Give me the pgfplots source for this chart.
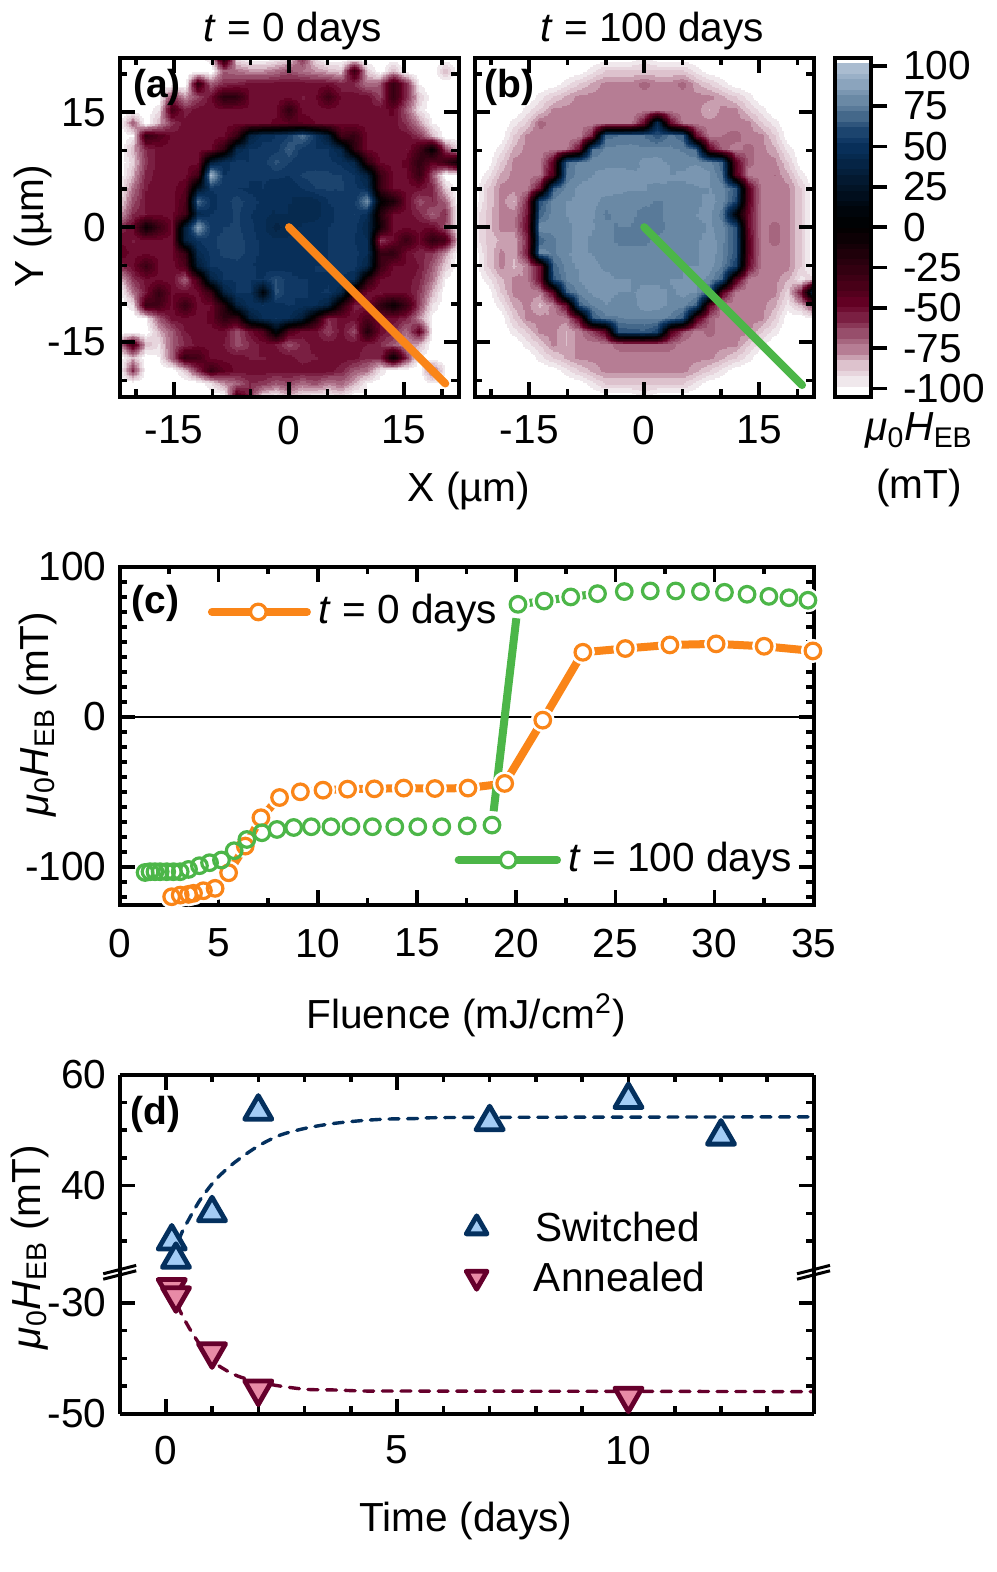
\documentclass[border=0pt]{standalone}
\usepackage{fontspec}
\setmainfont{Liberation Sans}
\usepackage{pgfplots}
\usepackage{pgfplotstable}
\pgfplotsset{compat=1.18}
\usepgfplotslibrary{patchplots}

\definecolor{cOrange}{RGB}{250,133,24}
\definecolor{cGreen}{RGB}{76,182,72}
\definecolor{cBlueD}{RGB}{4,48,94}
\definecolor{cBlueL}{RGB}{163,204,245}
\definecolor{cRedD}{RGB}{102,0,44}
\definecolor{cRedL}{RGB}{232,138,166}

\newcommand\fsz{\fontsize{20.3pt}{24pt}\selectfont}
\newcommand\fszb{\fontsize{19.5pt}{23pt}\selectfont\bfseries}
\newcommand\hebtext{\textit{μ}\textsubscript{0}\textit{H}\textsubscript{EB}}

% map data: 27 x 27 grid, 1.7 um step, rows from top to bottom
\newcount\gi \newcount\gj
\newcommand\buildgrid[2]{%
  \gi=0 \gj=0 \gdef#1{}%
  \pgfplotsforeachungrouped \v in {#2}{%
    \pgfmathsetmacro\gx{-22.1+1.7*\the\gi}%
    \pgfmathsetmacro\gy{22.1-1.7*\the\gj}%
    \xdef#1{#1(\gx,\gy)[\v]}%
    \global\advance\gi by 1
    \ifnum\gi=27 \global\gi=0 \global\advance\gj by 1 \fi
  }%
}

\buildgrid\mapA{
-112,-112,-112,-112,-112,-112,-112,-95,-15,-95,-105,-105,-100,-95,-60,-95,-105,-112,-112,-112,-112,-112,-112,-112,-112,-112,-112,
-112,-112,-112,-112,-112,-112,-112,-105,-70,-75,-80,-80,-75,-68,-75,-80,-85,-90,-30,-90,-105,-85,-112,-112,-112,-85,-112,
-112,-112,-112,-112,-112,-110,-30,-70,-60,-58,-52,-52,-52,-52,-52,-52,-52,-58,-60,-75,-70,-28,-60,-100,-112,-112,-112,
-112,-112,-112,-112,-60,-80,-65,-52,-22,-25,-50,-50,-52,-52,-55,-52,-32,-52,-52,-52,-65,-28,-60,-90,-105,-112,-112,
-112,-112,-112,-95,-35,-58,-52,-52,-52,-52,-52,-52,-52,-25,-52,-52,-52,-52,-52,-52,-52,-48,-70,-95,-108,-112,-112,
-112,-70,-108,-85,-62,-52,-52,-52,-52,-52,-52,-52,-48,-45,-45,-50,-52,-52,-52,-52,-52,-52,-62,-80,-100,-105,-112,
-112,-100,-28,-40,-52,-52,-52,-52,-52,-30,35,48,50,55,70,52,30,-35,-28,-52,-52,-52,-52,-62,-85,-105,-112,
-105,-85,-60,-52,-52,-52,-52,-52,-25,40,50,52,52,65,52,50,50,38,-25,-52,-52,-52,-55,-35,0,-65,-95,
-108,-92,-62,-52,-52,-52,-52,30,48,52,50,52,62,55,50,50,52,48,40,-25,-52,-52,-48,-25,-45,-30,-5,
-105,-85,-58,-52,-52,-52,-35,95,50,52,50,50,52,50,56,58,56,55,50,35,-30,-52,-52,-30,-68,-105,-112,
-100,-75,-55,-52,-52,-45,20,50,52,50,48,50,45,45,50,55,56,55,52,45,-30,-52,-52,-52,-58,-90,-110,
-95,-68,-54,-52,-52,-40,70,48,52,58,52,48,45,45,42,42,50,52,52,80,0,-15,-50,-68,-60,-72,-105,
-85,-60,-55,-52,-52,-35,40,50,52,56,50,46,44,44,42,42,48,52,55,45,-20,-52,-52,-58,-72,-60,-100,
-60,-50,-5,-30,-50,30,85,52,55,56,52,46,38,42,46,48,50,52,52,40,-10,-52,-52,-52,-50,-68,-100,
-50,-55,-52,-52,-52,35,50,54,58,58,52,48,46,46,45,46,50,54,50,45,-65,-50,-30,-50,-25,-35,-90,
-45,-52,-52,-52,-52,-30,42,52,56,58,52,48,48,46,46,48,50,54,52,45,-30,-25,-52,-58,-62,-80,-105,
-60,-52,-30,-50,-52,-40,30,50,52,52,50,48,46,48,48,50,50,52,52,38,-30,-52,-50,-55,-70,-90,-110,
-90,-62,-52,-52,-52,-72,-35,35,50,50,50,50,60,52,50,48,48,50,45,-20,-52,-52,-52,-58,-75,-100,-112,
-105,-75,-55,-28,-50,-52,-52,-30,35,50,50,5,62,50,50,48,52,38,-25,-52,-55,-52,-52,-62,-85,-105,-112,
-112,-95,-30,-35,-52,-28,-52,-50,-20,35,48,50,48,50,48,46,35,-20,-58,-55,-25,-5,-30,-65,-95,-112,-112,
-112,-112,-100,-70,-52,-52,-52,-48,-25,-30,30,45,50,45,30,-15,-60,-52,-52,-40,-52,-52,-58,-80,-102,-112,-112,
-112,-112,-112,-85,-70,-55,-52,-52,-52,-68,-52,-40,10,-40,-52,-52,-65,-52,-68,-18,-52,-58,-75,-45,-100,-112,-112,
-80,-35,-85,-95,-70,-60,-52,-52,-55,-68,-60,-52,-55,-68,-58,-52,-52,-52,-52,-55,-60,-70,-80,-85,-110,-112,-112,
-112,-85,-108,-100,-70,-30,-35,-52,-52,-52,-55,-55,-52,-52,-58,-55,-52,-52,-52,-60,-60,-5,-60,-100,-108,-112,-112,
-112,-60,-112,-112,-105,-90,-60,-30,-45,-52,-52,-52,-52,-52,-52,-52,-52,-58,-70,-75,-95,-108,-112,-105,-70,-100,-112,
-112,-112,-112,-112,-112,-112,-105,-95,-80,-72,-60,-62,-70,-65,-75,-68,-78,-72,-85,-100,-112,-112,-112,-112,-100,-112,-112,
-112,-112,-112,-112,-112,-112,-112,-110,-105,-35,-60,-95,-100,-85,-95,-100,-100,-95,-105,-100,-112,-112,-112,-112,-112,-112,-112
}

\buildgrid\mapB{
-112,-112,-112,-112,-112,-112,-112,-112,-112,-110,-104,-104,-104,-97,-104,-104,-104,-110,-112,-112,-112,-112,-112,-112,-112,-112,-112,
-112,-112,-112,-112,-112,-112,-110,-104,-104,-97,-90,-90,-90,-90,-90,-90,-90,-97,-104,-104,-110,-112,-112,-112,-112,-112,-112,
-112,-112,-112,-112,-112,-110,-104,-97,-90,-84,-78,-78,-78,-72,-78,-78,-72,-84,-90,-97,-104,-110,-112,-112,-112,-112,-112,
-112,-112,-112,-112,-106,-97,-90,-84,-78,-78,-78,-78,-78,-78,-78,-78,-78,-78,-78,-84,-90,-97,-106,-112,-112,-112,-112,
-112,-112,-112,-106,-97,-90,-78,-78,-78,-78,-78,-78,-78,-78,-78,-78,-78,-78,-85,-78,-78,-90,-97,-106,-112,-112,-112,
-112,-112,-108,-97,-90,-72,-78,-78,-78,-78,-78,-78,-78,-50,45,-50,-78,-78,-78,-78,-78,-78,-90,-97,-108,-112,-112,
-112,-108,-104,-90,-78,-78,-78,-78,-78,-55,68,70,72,70,62,72,66,-50,-78,-75,-72,-78,-78,-90,-104,-108,-112,
-112,-104,-97,-84,-78,-78,-78,-78,-50,70,76,77,77,76,77,76,74,68,-45,-72,-78,-72,-78,-84,-97,-104,-112,
-112,-104,-90,-78,-78,-78,-45,68,77,78,77,77,77,82,82,79,78,79,77,66,-45,-72,-78,-78,-90,-104,-112,
-112,-97,-84,-78,-78,-75,-40,70,78,80,83,84,82,80,83,80,81,84,81,70,-40,-78,-78,-75,-84,-97,-112,
-104,-90,-78,-78,-78,-50,66,77,81,84,84,83,80,80,78,79,78,79,80,77,64,-45,-78,-78,-78,-90,-104,
-104,-90,-78,-85,-60,62,77,80,81,83,77,76,77,77,74,77,78,79,82,78,58,-45,-78,-78,-78,-90,-104,
-98,-88,-78,-78,-55,66,78,80,82,81,74,76,76,72,74,77,79,80,82,72,5,-50,-78,-78,-78,-90,-104,
-98,-88,-78,-78,-50,80,77,79,82,80,77,74,74,70,72,77,77,78,81,77,62,-50,-78,-72,-78,-90,-104,
-98,-88,-84,-84,-60,66,74,79,82,79,77,74,74,74,77,78,77,79,83,77,62,-45,-78,-72,-78,-90,-104,
-104,-90,-78,-84,-55,79,74,79,83,79,77,77,77,77,77,78,79,79,84,76,62,-45,-78,-78,-78,-90,-104,
-104,-90,-78,-86,-78,-50,66,77,81,83,78,77,77,77,77,77,80,80,83,74,55,-50,-78,-78,-78,-90,-104,
-112,-97,-86,-78,-78,-50,62,76,80,83,83,80,79,78,78,80,81,82,78,64,-40,-78,-78,-78,-84,-97,-90,
-112,-104,-90,-78,-78,-78,-45,66,77,81,83,79,79,83,82,79,82,80,66,-45,-78,-78,-78,-78,-92,-55,45,
-112,-104,-97,-84,-78,-86,-78,-50,66,76,79,78,77,83,82,79,77,66,-45,-78,-78,-78,-78,-84,-97,-85,-65,
-112,-108,-104,-90,-78,-78,-78,-78,-45,62,74,74,76,76,76,74,62,-40,-72,-78,-78,-78,-78,-90,-104,-108,-100,
-112,-112,-108,-97,-90,-78,-78,-85,-78,-65,-45,60,62,64,56,-40,-68,-78,-72,-78,-78,-78,-90,-97,-108,-112,-112,
-112,-112,-112,-106,-97,-90,-78,-85,-78,-78,-78,-72,-70,-70,-70,-72,-78,-78,-78,-78,-78,-90,-97,-106,-112,-112,-112,
-112,-112,-112,-112,-106,-97,-90,-84,-78,-78,-78,-78,-78,-78,-78,-78,-78,-78,-78,-84,-90,-97,-106,-112,-112,-112,-112,
-112,-112,-112,-112,-112,-110,-104,-97,-90,-84,-78,-78,-78,-78,-78,-78,-78,-84,-90,-97,-104,-110,-112,-112,-112,-112,-112,
-112,-112,-112,-112,-112,-112,-110,-104,-104,-97,-90,-90,-90,-90,-90,-90,-90,-97,-104,-104,-110,-112,-112,-112,-112,-112,-112,
-112,-112,-112,-112,-112,-112,-112,-112,-112,-110,-104,-104,-104,-97,-104,-104,-104,-110,-112,-112,-112,-112,-112,-112,-112,-112,-112
}

\pgfplotsset{
  colormap={ebmap}{
    rgb255(0pt)=(255,255,255) rgb255(3pt)=(255,255,255) rgb255(5pt)=(240,232,236)
    rgb255(15pt)=(222,196,207) rgb255(25pt)=(184,128,150) rgb255(30pt)=(168,105,130)
    rgb255(45pt)=(125,35,70) rgb255(55pt)=(101,0,36) rgb255(65pt)=(75,0,25)
    rgb255(80pt)=(45,0,15) rgb255(95pt)=(15,0,5) rgb255(105pt)=(0,0,0)
    rgb255(115pt)=(0,6,14) rgb255(130pt)=(2,22,42) rgb255(145pt)=(5,38,72)
    rgb255(155pt)=(8,48,92) rgb255(165pt)=(30,70,112) rgb255(180pt)=(92,125,155)
    rgb255(195pt)=(140,165,190) rgb255(205pt)=(170,188,208) rgb255(207pt)=(200,210,225)
    rgb255(210pt)=(255,255,255)
  },
  every axis/.append style={
    scale only axis, axis line style={line width=2pt}, axis on top,
    every tick/.style={black, line width=1.8pt},
    major tick length=7.5pt, minor tick length=3.7pt, tick align=inside,
    tick label style={font=\fsz},
    yticklabel style={xshift=-3pt},
    xticklabel style={yshift=-6pt},
    point meta min=-105, point meta max=105,
  },
  mapaxis/.style={
    width=169.5pt, height=169.5pt,
    xmin=-22.12, xmax=22.12, ymin=-22.12, ymax=22.12,
    xtick={-15,0,15}, xticklabels={-15,0,15},
    ytick={-15,0,15},
    minor xtick={-20,-10,-5,5,10,20}, minor ytick={-20,-10,-5,5,10,20},
  },
  bands/.style={contour filled={levels={-105,-100,-95,-90,-85,-80,-75,-70,-65,-60,-55,-50,-45,-40,-35,-30,-25,-20,-15,-10,-5,0,5,10,15,20,25,30,35,40,45,50,55,60,65,70,75,80,85,90,95,100,105}}, mesh/cols=27, point meta=explicit, patch type=bilinear},
  halo/.style={only marks, mark=*, mark size=5.8pt, white, mark options={draw=white, fill=white}},
  ring/.style={only marks, mark=o, mark size=3.9pt, mark options={line width=1.6pt, draw=#1, fill=none}},
  tri/.style n args={3}{only marks, mark=#1, mark size=#2, mark options={line width=2.4pt, line join=round, #3}},
  dashline/.style={line width=1.7pt, line cap=round, dash pattern=on 5pt off 4.3pt, smooth, tension=0.5},
}
\newcommand\doplot[1]{\addplot[bands] coordinates {#1};}

\pgfplotstableread{
x y
2.63 -120
3.06 -118.9
3.48 -118.4
3.73 -117.7
4.23 -116
4.82 -114.4
5.5 -104
6.34 -86.2
7.13 -67.3
8.07 -53.8
9.12 -50
10.26 -48.9
11.5 -48.2
12.85 -48
14.33 -47.5
15.9 -47.8
17.57 -47.5
19.42 -44.4
21.34 -2.2
23.36 43.1
25.5 45.6
27.75 48
30.08 48.7
32.5 47.1
34.96 44
}\tblOrange

\pgfplotstableread{
x y
1.29 -103.8
1.54 -103.3
1.79 -103.3
2.05 -103.3
2.38 -103.3
2.72 -103.3
3.06 -103.3
3.48 -101.8
4.03 -99.3
4.54 -97.3
5.14 -95.5
5.78 -89.3
6.42 -81.8
7.18 -77.3
7.94 -75.1
8.78 -73.8
9.67 -73.3
10.66 -73.3
11.67 -73.1
12.75 -73.3
13.88 -73.3
15.04 -73.3
16.25 -73.3
17.53 -72.7
18.78 -72.2
}\tblGreenLow

\pgfplotstableread{
x y
20.09 75.1
21.41 77.3
22.75 80
24.1 82.2
25.45 83.6
26.76 84
28.04 84
29.29 83.6
30.5 83.1
31.64 81.8
32.74 80.4
33.75 79.5
34.71 77.8
}\tblGreenHigh

\begin{document}
\begin{tikzpicture}[every node/.append style={font=\fsz}]
\path[use as bounding box] (0,0) rectangle (498pt,786pt);

% (a)
\begin{axis}[mapaxis, anchor=south west, at={(59.75pt,587.65pt)}, yticklabels={-15,0,15}]
\expandafter\doplot\expandafter{\mapA}
\addplot[cOrange, line width=4pt, line cap=round] coordinates {(0,0)(20.4,-20.4)};
\node[font=\fszb, anchor=west, inner sep=0] at (axis cs:-20.4,18.3) {(a)};
\end{axis}

% (b)
\begin{axis}[mapaxis, anchor=south west, at={(237.35pt,587.65pt)}, yticklabels={}]
\expandafter\doplot\expandafter{\mapB}
\addplot[cGreen, line width=4pt, line cap=round] coordinates {(0,0)(20.6,-20.6)};
\node[font=\fszb, anchor=west, inner sep=0] at (axis cs:-20.9,18.3) {(b)};
\end{axis}

% colour bar
\begin{axis}[anchor=south west, at={(417.35pt,587.65pt)}, width=18.3pt, height=169.5pt,
  xmin=0, xmax=1, ymin=-105, ymax=105, xtick=\empty, axis on top,
  ytick={-100,-75,-50,-25,0,25,50,75,100},
  yticklabels={-100,-75,-50,-25,0,25,50,75,100},
  ytick pos=right, tick align=outside, major tick length=8pt,
  yticklabel pos=right, yticklabel style={xshift=7.5pt, anchor=west}]
\addplot[bands, mesh/cols=2] coordinates {(0,-105)[-105](1,-105)[-105](0,105)[105](1,105)[105]};
\end{axis}

% (c)
\begin{axis}[anchor=south west, at={(59.75pt,333.5pt)}, width=347.1pt, height=169pt,
  xmin=0, xmax=35, ymin=-125.5, ymax=100,
  xtick={0,5,...,35}, xticklabels={0,5,10,15,20,25,30,35}, minor xtick={2.5,7.5,...,32.5},
  ytick={-100,0,100}, yticklabels={-100,0,100},
  xticklabel style={yshift=-2.5pt},
  minor ytick={-120,-110,...,90}, clip=false]
\addplot[cOrange, line width=4pt, line cap=round] table[x=x,y=y] {\tblOrange};
\addplot[cGreen, line width=4pt] coordinates {(20.09,75.1)(21.41,77.3)(22.75,80)(24.1,82.2)};
\addplot[halo] table[x=x,y=y] {\tblOrange};
\addplot[halo] table[x=x,y=y] {\tblGreenHigh};
\addplot[black, line width=1.1pt] coordinates {(0,0)(35,0)};
\addplot[ring=cOrange] table[x=x,y=y] {\tblOrange};
\addplot[cGreen, line width=4pt, shorten >=7pt, shorten <=7pt] coordinates {(18.78,-72.2)(20.09,75.1)};
\addplot[ring=cGreen] table[x=x,y=y] {\tblGreenLow};
\addplot[ring=cGreen] table[x=x,y=y] {\tblGreenHigh};
% key
\addplot[cOrange, line width=4pt, line cap=round] coordinates {(4.66,70)(9.45,70)};
\addplot[halo, mark size=3.9pt] coordinates {(7.0,70)};
\addplot[ring=cOrange] coordinates {(7.0,70)};
\addplot[cGreen, line width=4pt, line cap=round] coordinates {(17.1,-95.5)(22.06,-95.5)};
\addplot[halo, mark size=3.9pt] coordinates {(19.6,-95.5)};
\addplot[ring=cGreen] coordinates {(19.6,-95.5)};
\node[anchor=west, inner sep=0] at (axis cs:10.0,69) {\textit{t} = 0 days};
\node[anchor=west, inner sep=0] at (axis cs:22.6,-96) {\textit{t} = 100 days};
\node[font=\fszb, anchor=west, inner sep=0] at (axis cs:0.6,76) {(c)};
\end{axis}

% (d), upper part of the broken axis
\begin{axis}[anchor=south west, at={(59.75pt,150.65pt)}, width=347pt, height=98pt,
  xmin=-1, xmax=14, ymin=24.68, ymax=60, clip=false,
  axis x line*=top, axis y line*=box, axis line style={-},
  xtick={0,5,10}, xticklabels={}, minor xtick={1,2,3,4,6,7,8,9,11,12,13},
  ytick={40,60}, yticklabels={40,60}, minor ytick={30,35,45,50,55}]
\addplot[cBlueD, dashline] coordinates {
(0.20,26.9)(0.31,30.8)(0.49,33.8)(0.74,37.4)(1.07,41)(1.46,44)(1.97,47)(2.47,49.1)
(3.05,50.4)(3.62,51.2)(4.2,51.7)(4.78,52)(5.42,52.1)(6.5,52.3)(14,52.4)};
\addplot[tri={triangle*}{7.85pt}{draw=cBlueD, fill=cBlueL}] coordinates {
(0.13,30)(0.22,26.7)(1,35.1)(2,53.4)(7,51.5)(10,55.5)(12,48.9)};
\addplot[tri={triangle*}{6pt}{draw=cBlueD, fill=cBlueL}] coordinates {(6.72,32.4)};
\addplot[tri={triangle*}{6pt}{draw=cRedD, fill=cRedL, rotate=180}] coordinates {(6.72,23.5)};
\node[anchor=west, inner sep=0] at (axis cs:7.98,32.6) {Switched};
\node[anchor=west, inner sep=0] at (axis cs:7.95,23.5) {Annealed};
\node[font=\fszb, anchor=west, inner sep=0] at (axis cs:-0.77,52.8) {(d)};
\end{axis}

% (d), lower part
\begin{axis}[anchor=south west, at={(59.75pt,79.1pt)}, width=347pt, height=71.55pt,
  xmin=-1, xmax=14, ymin=-50, ymax=-24.2, clip=false,
  axis x line*=bottom, axis y line*=box, axis line style={-},
  xtick={0,5,10}, xticklabels={0,5,10}, minor xtick={1,2,3,4,6,7,8,9,11,12,13},
  xticklabel style={yshift=-1.5pt},
  ytick={-50,-30}, yticklabels={-50,-30}, minor ytick={-45,-40,-35}]
\addplot[cRedD, dashline] coordinates {
(0.17,-27.1)(0.27,-30.7)(0.45,-33.7)(0.67,-36.7)(1.03,-40.6)(1.5,-43)(1.97,-44.2)(2.47,-45)
(3.05,-45.6)(3.62,-45.7)(4.34,-45.9)(5.42,-45.9)(14,-46)};
\addplot[tri={triangle*}{7.85pt}{draw=cRedD, fill=cRedL, rotate=180}] coordinates {
(0.13,-27.2)(0.22,-28.7)(1,-38.8)(2,-45.5)(10,-46.8)};
\end{axis}

% axis breaks
\foreach \bx in {51.6pt,398.5pt}{
  \draw[line width=1.5pt] (\bx,146.4pt) -- ++(16.5pt,4.2pt);
  \draw[line width=1.5pt] (\bx,149.1pt) -- ++(16.5pt,4.2pt);
}

% outer labels
\node[anchor=base, inner sep=0] at (146.5pt,765pt) {\textit{t} = 0 days};
\node[anchor=base, inner sep=0] at (326pt,765pt) {\textit{t} = 100 days};
\node[anchor=base, inner sep=0] at (234.5pt,535pt) {X (µm)};
\node[anchor=base, rotate=90, inner sep=0] at (21.5pt,673pt) {Y (µm)};
\node[anchor=base, inner sep=0] at (459.5pt,565.5pt) {\hebtext};
\node[anchor=base, inner sep=0] at (459.5pt,536.5pt) {(mT)};
\node[anchor=base, inner sep=0] at (233pt,271.5pt) {Fluence (mJ/cm\textsuperscript{2})};
\node[anchor=base, rotate=90, inner sep=0] at (24pt,429pt) {\hebtext{} (mT)};
\node[anchor=base, inner sep=0] at (233pt,20pt) {Time (days)};
\node[anchor=base, rotate=90, inner sep=0] at (20pt,162.5pt) {\hebtext{} (mT)};
\end{tikzpicture}
\end{document}
